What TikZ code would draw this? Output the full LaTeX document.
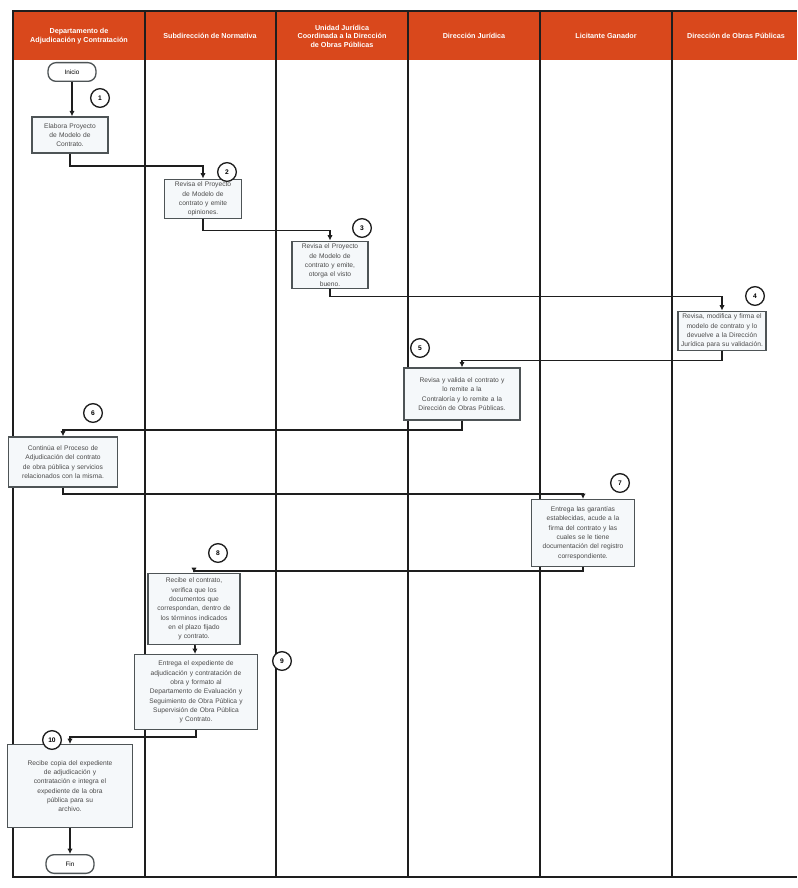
\documentclass[tikz,border=0pt]{standalone}
\usepackage{fontspec}
\setmainfont{Liberation Sans}
\usetikzlibrary{arrows.meta,positioning}
\definecolor{Band}{HTML}{D9481C}
\definecolor{Ink}{HTML}{1E1E1E}
\definecolor{Edge}{HTML}{4E5456}
\definecolor{Paper}{HTML}{F5F8FA}

\tikzset{
  lanehead/.style={text=white,font=\bfseries\fontsize{5.4}{6.4}\selectfont,align=center},
  procbox/.style={draw=Edge,line width=1pt,fill=Paper,align=center,inner sep=2pt,
    font=\fontsize{5}{7}\selectfont,text=Ink!80},
  termbox/.style={draw=Edge,line width=1pt,fill=white,rounded corners=6pt,
    minimum width=36pt,minimum height=14pt,font=\fontsize{4.8}{6}\selectfont},
  numdot/.style={circle,draw=Ink,line width=1pt,fill=white,minimum size=14pt,inner sep=0pt,
    font=\bfseries\fontsize{5}{6}\selectfont},
  flow/.style={Ink,line width=1.3pt,-{Latex[length=4pt,width=4pt]}}
}

\begin{document}
\begin{tikzpicture}[x=0.75pt,y=-0.75pt]
        \useasboundingbox (0,0) rectangle (797,888);
        \fill[white] (0,0) rectangle (797,888);
        % header band and lanes
        \fill[Band] (12,12) rectangle (797,60);
        \draw[Ink,line width=1.2pt] (12,11) -- (797,11);
        \draw[Ink,line width=1.2pt] (12,877) -- (797,877);
        \foreach \x in {13,145,276,408,540,672}{
          \draw[Ink,line width=1.4pt] (\x,11) -- (\x,877);
        }
        \foreach \n/\x/\lab in {1/79/{Departamento de\\Adjudicación y Contratación},
            2/210/{Subdirección de Normativa},
            3/342/{Unidad Jurídica\\Coordinada a la Dirección\\de Obras Públicas},
            4/474/{Dirección Jurídica},
            5/606/{Licitante Ganador},
            6/736/{Dirección de Obras Públicas}}{
          \node[lanehead] (h\n) at (\x,36) {\lab};
        }

        % steps
        \node[termbox] (ini) at (72,72) {Inicio};
        \node[procbox,text width=53pt,minimum height=27pt] (b1) at (70,135) {Elabora Proyecto\\de Modelo de\\Contrato.};
        \node[procbox,text width=54pt,minimum height=28.5pt] (b2) at (203,199) {Revisa el Proyecto\\de Modelo de\\contrato y emite\\opiniones.};
        \node[procbox,text width=53pt,minimum height=34pt] (b3) at (330,265) {Revisa el Proyecto\\de Modelo de\\contrato y emite,\\otorga el visto\\bueno.};
        \node[procbox,text width=62pt,minimum height=28.5pt] (b4) at (722,331) {Revisa, modifica y firma el\\modelo de contrato y lo\\devuelve a la Dirección\\Jurídica para su validación.};
        \node[procbox,text width=83pt,minimum height=39pt] (b5) at (462,394) {Revisa y valida el contrato y\\lo remite a la\\Contraloría y lo remite a la\\Dirección de Obras Públicas.};
        \node[procbox,text width=78pt,minimum height=37.5pt] (b6) at (63,462) {Continúa el Proceso de\\Adjudicación del contrato\\de obra pública y servicios\\relacionados con la misma.};
        \node[procbox,text width=73pt,minimum height=50pt] (b7) at (583,533) {Entrega las garantías\\establecidas, acude a la\\firma del contrato y las\\cuales se le tiene\\documentación del registro\\correspondiente.};
        \node[procbox,text width=65pt,minimum height=53pt] (b8) at (194,609) {Recibe el contrato,\\verifica que los\\documentos que\\correspondan, dentro de\\los términos indicados\\en el plazo fijado\\y contrato.};
        \node[procbox,text width=88pt,minimum height=56pt] (b9) at (196,692) {Entrega el expediente de\\adjudicación y contratación de\\obra y formato al\\Departamento de Evaluación y\\Seguimiento de Obra Pública y\\Supervisión de Obra Pública\\y Contrato.};
        \node[procbox,text width=90pt,minimum height=62pt] (b10) at (70,786) {Recibe copia del expediente\\de adjudicación y\\contratación e integra el\\expediente de la obra\\pública para su\\archivo.};
        \node[termbox] (fin) at (70,864) {Fin};

        % step numbers
        \foreach \n/\x/\y in {1/100/98,2/227/172,3/362/228,4/755/296,5/420/348,
            6/93/413,7/620/483,8/218/553,9/282/661,10/52/740}{
          \node[numdot] (n\n) at (\x,\y) {\n};
        }

        % connectors
        \draw[flow] (ini) -- (ini |- b1.north);
        \draw[flow] (b1.south) -- ++(0,12) -| (b2.north);
        \draw[flow] (b2.south) -- ++(0,11) -| (b3.north);
        \draw[flow] (b3.south) -- ++(0,7) -| (b4.north);
        \draw[flow] (b4.south) -- ++(0,9) -| (b5.north);
        \draw[flow] (b5.south) -- ++(0,9) -| (b6.north);
        \draw[flow] (b6.south) -- ++(0,6) -| (b7.north);
        \draw[flow] (b7.south) -- ++(0,4) -| (b8.north);
        \draw[flow] (b8) -- (b9);
        \draw[flow] (b9.south) -- ++(0,7) -| (b10.north);
        \draw[flow] (b10) -- (fin);
      \end{tikzpicture}
\end{document}
